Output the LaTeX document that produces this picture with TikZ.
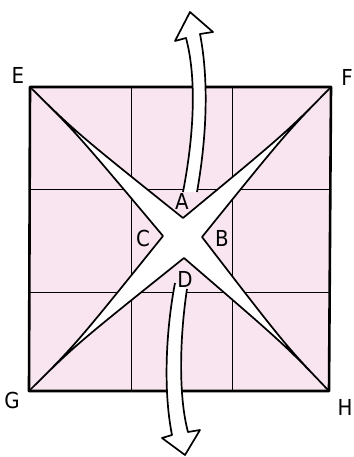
\documentclass[tikz,border=0pt]{standalone}
\usepackage{fontspec}
\setmainfont{DejaVu Sans Condensed}
\usetikzlibrary{calc}
\definecolor{paper}{RGB}{248,229,239}

\begin{document}
\begin{tikzpicture}[x=1pt, y=-1pt, line join=round,
    lbl/.style={font=\fontsize{22}{22}\selectfont, inner sep=0pt},
    gridline/.style={line width=0.8pt},
    cut/.style={line width=1.7pt, fill=white},
    bigarrow/.style={line width=1.7pt, fill=white}]
  \useasboundingbox (0,0) rectangle (353,457);
  \coordinate (E) at (30,87);
  \coordinate (F) at (331,87);
  \coordinate (G) at (29,391);
  \coordinate (H) at (329,391);
  \coordinate (O) at (183,238);
  % tips of the cut at the centre
  \coordinate (nA) at (183,218);
  \coordinate (nB) at (202,237);
  \coordinate (nD) at (184,258);
  \coordinate (nC) at (163,236);

  \fill[paper] (E) -- (F) -- (H) -- (G) -- cycle;
  \foreach \x in {131,232} \draw[gridline] (\x,87) -- (\x,391);
  \foreach \y in {189,292} \draw[gridline] (30,\y) -- (330,\y);

  \filldraw[cut] (E) .. controls ($(E)!.3!(O)$) .. (nA)
    .. controls ($(F)!.3!(O)$) .. (F) .. controls ($(F)!.3!(O)$) .. (nB)
    .. controls ($(H)!.3!(O)$) .. (H) .. controls ($(H)!.3!(O)$) .. (nD)
    .. controls ($(G)!.3!(O)$) .. (G) .. controls ($(G)!.3!(O)$) .. (nC)
    .. controls ($(E)!.3!(O)$) .. cycle;

  \draw[line width=2.6pt] (E) -- (F) -- (H) -- (G) -- cycle;

  % the two folds
  \filldraw[bigarrow] (183,192) .. controls (195,130) and (196,75) .. (186,38)
    -- (175,41) -- (190,12) -- (213,32) -- (200,34)
    .. controls (208,75) and (208,130) .. (197,192);
  \filldraw[bigarrow] (175,283) .. controls (166,330) and (163,390) .. (172,435)
    -- (162,438) -- (185,455) -- (200,430) -- (188,432)
    .. controls (178,395) and (180,335) .. (187,289);

  \node[lbl] (lA) at (182,201) {A};
  \node[lbl] (lB) at (222,238) {B};
  \node[lbl] (lC) at (143,238) {C};
  \node[lbl] (lD) at (185,279) {D};
  \node[lbl] (lE) at (18,75) {E};
  \node[lbl] (lF) at (347,77) {F};
  \node[lbl] (lG) at (12,400) {G};
  \node[lbl] (lH) at (345,407) {H};
\end{tikzpicture}
\end{document}
